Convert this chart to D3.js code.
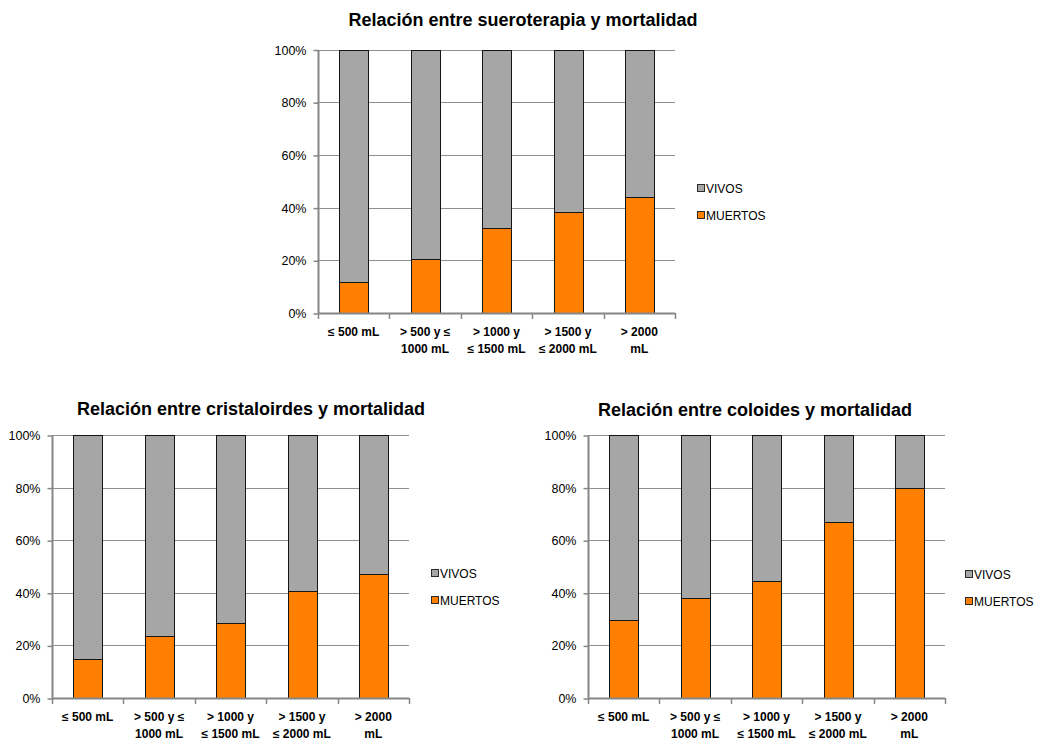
<!DOCTYPE html>
<html>
<head>
<meta charset="utf-8">
<script src="https://cdn.jsdelivr.net/npm/d3@7"></script>
<style>
  html, body { margin: 0; padding: 0; background: #fff; }
  svg { display: block; }
  text { font-family: "Liberation Sans", Arial, sans-serif; fill: #000; }
</style>
</head>
<body>
<svg id="chart" width="1041" height="744"></svg>
<script>
// Fluid-volume categories (label lines as wrapped under each bar)
const categoryLines = [
  ["≤ 500 mL"],
  ["> 500 y  ≤", "1000 mL"],
  ["> 1000 y", "≤ 1500 mL"],
  ["> 1500 y", "≤ 2000 mL"],
  ["> 2000", "mL"]
];
const seriesNames = ["MUERTOS", "VIVOS"];
const yTickValues = [0, 20, 40, 60, 80, 100];
const yTickLabels = ["0%", "20%", "40%", "60%", "80%", "100%"];

// Percentages per category
const muertosSueroterapia = [11.7, 20.4, 32.3, 38.3, 44.1];
const vivosSueroterapia   = [88.3, 79.6, 67.7, 61.7, 55.9];

const muertosCristaloides = [15.0, 23.4, 28.7, 40.5, 47.1];
const vivosCristaloides   = [85.0, 76.6, 71.3, 59.5, 52.9];

const muertosColoides = [29.6, 37.9, 44.4, 67.0, 80.0];
const vivosColoides   = [70.4, 62.1, 55.6, 33.0, 20.0];

const titles = [
  "Relación entre sueroterapia y mortalidad",
  "Relación entre cristaloirdes y mortalidad",
  "Relación entre coloides y mortalidad"
];

const colors = { MUERTOS: "#ff8000", VIVOS: "#a6a6a6" };
const axisColor = "#868686";
const gridColor = "#8f8f8f";

const svg = d3.select("#chart");

function drawPanel(opts) {
  const { title, muertos, vivos, x0, x1, yTop, yBot, titleX, titleY, legendX, legendY } = opts;
  const g = svg.append("g");

  const rows = categoryLines.map((lines, i) => ({
    key: i, lines, MUERTOS: muertos[i], VIVOS: vivos[i]
  }));
  const stacked = d3.stack().keys(seriesNames)(rows);

  const x = d3.scaleBand()
    .domain(rows.map(d => d.key))
    .range([x0, x1])
    .paddingInner(0.6)
    .paddingOuter(0.3);
  const y = d3.scaleLinear().domain([0, 100]).range([yBot, yTop]);
  const step = x.step();

  // horizontal gridlines
  g.append("g").selectAll("line")
    .data(yTickValues.filter(v => v > 0))
    .join("line")
    .attr("x1", x0).attr("x2", x1)
    .attr("y1", d => Math.round(y(d)) + 0.5)
    .attr("y2", d => Math.round(y(d)) + 0.5)
    .attr("stroke", gridColor)
    .attr("stroke-width", 1);

  // stacked bars
  g.append("g").selectAll("g")
    .data(stacked)
    .join("g")
    .attr("fill", s => colors[s.key])
    .selectAll("rect")
    .data(s => s)
    .join("rect")
    .attr("x", d => Math.round(x(d.data.key)) + 0.5)
    .attr("width", Math.round(x.bandwidth()))
    .attr("y", d => Math.round(y(d[1])) + 0.5)
    .attr("height", d => Math.round(y(d[0])) - Math.round(y(d[1])))
    .attr("stroke", "#151515")
    .attr("stroke-width", 1);

  // y axis
  const yAxis = d3.axisLeft(y)
    .tickValues(yTickValues)
    .tickFormat((d, i) => yTickLabels[i])
    .tickSize(5)
    .tickPadding(7);
  const ya = g.append("g")
    .attr("transform", `translate(${Math.round(x0) + 0.5},0.5)`)
    .call(yAxis);
  ya.select(".domain").attr("stroke", axisColor).attr("stroke-width", 2)
    .attr("d", `M0,${y(100)}V${y(0)}`);
  ya.selectAll(".tick line").attr("stroke", axisColor).attr("stroke-width", 1.5);
  ya.selectAll(".tick text")
    .attr("font-size", 12.5)
    .attr("font-family", "Liberation Sans, Arial, sans-serif")
    .attr("fill", "#111");

  // x axis line with category boundary ticks
  const xa = g.append("g");
  xa.append("line")
    .attr("x1", x0).attr("x2", x1)
    .attr("y1", Math.round(yBot) + 0.5).attr("y2", Math.round(yBot) + 0.5)
    .attr("stroke", axisColor).attr("stroke-width", 2);
  xa.selectAll("line.tk")
    .data(d3.range(rows.length + 1))
    .join("line")
    .attr("class", "tk")
    .attr("x1", i => Math.round(x0 + i * step) + 0.5)
    .attr("x2", i => Math.round(x0 + i * step) + 0.5)
    .attr("y1", yBot).attr("y2", yBot + 6)
    .attr("stroke", axisColor).attr("stroke-width", 1.5);

  // category labels
  const lab = g.append("g").selectAll("text")
    .data(rows)
    .join("text")
    .attr("text-anchor", "middle")
    .attr("font-size", 12)
    .attr("font-weight", "bold")
    .attr("x", d => x(d.key) + x.bandwidth() / 2)
    .attr("y", yBot + 23);
  lab.selectAll("tspan")
    .data(d => d.lines.map(l => ({ l, cx: x(d.key) + x.bandwidth() / 2 })))
    .join("tspan")
    .attr("x", d => d.cx)
    .attr("dy", (d, i) => i === 0 ? 0 : 17)
    .text(d => d.l);

  // title
  g.append("text")
    .attr("x", titleX).attr("y", titleY)
    .attr("text-anchor", "middle")
    .attr("font-size", 18)
    .attr("font-weight", "bold")
    .text(title);

  // legend (VIVOS above MUERTOS)
  const legendItems = ["VIVOS", "MUERTOS"];
  const lg = g.append("g").attr("transform", `translate(${legendX},${legendY})`);
  const li = lg.selectAll("g")
    .data(legendItems)
    .join("g")
    .attr("transform", (d, i) => `translate(0,${i * 27})`);
  li.append("rect")
    .attr("x", 0.5).attr("y", -8.5)
    .attr("width", 7).attr("height", 7)
    .attr("fill", d => colors[d])
    .attr("stroke", "#2a2a2a").attr("stroke-width", 1);
  li.append("text")
    .attr("x", 9).attr("y", 0)
    .attr("font-size", 12)
    .text(d => d);
}

drawPanel({
  title: titles[0], muertos: muertosSueroterapia, vivos: vivosSueroterapia,
  x0: 318, x1: 675, yTop: 49.5, yBot: 313,
  titleX: 523, titleY: 26, legendX: 697, legendY: 193
});
drawPanel({
  title: titles[1], muertos: muertosCristaloides, vivos: vivosCristaloides,
  x0: 52, x1: 409, yTop: 435, yBot: 698,
  titleX: 251, titleY: 415, legendX: 431, legendY: 578
});
drawPanel({
  title: titles[2], muertos: muertosColoides, vivos: vivosColoides,
  x0: 588, x1: 945, yTop: 435, yBot: 698,
  titleX: 755, titleY: 416, legendX: 965, legendY: 579
});
</script>
</body>
</html>
